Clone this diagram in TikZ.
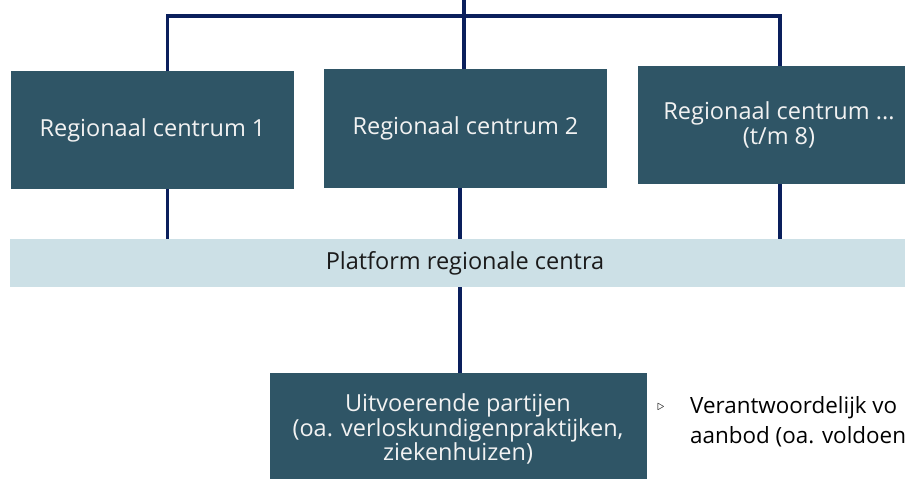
\documentclass[tikz,border=0pt]{standalone}
\usepackage{fontspec}
\setmainfont{Open Sans}
\definecolor{boxteal}{HTML}{2F5566}
\definecolor{bandblue}{HTML}{CCE0E6}
\definecolor{linenavy}{HTML}{0A1F5C}
\definecolor{boxtext}{HTML}{F2F2F2}
\definecolor{darktext}{HTML}{1A1A1A}
\tikzset{
  regbox/.style={fill=boxteal, text=boxtext, inner sep=0pt, align=center, font=\fontsize{23.5}{25}\selectfont},
  band/.style={fill=bandblue, text=darktext, inner sep=0pt, font=\fontsize{23.5}{25}\selectfont},
  conn/.style={draw=linenavy, line width=3.4pt},
  bodytext/.style={text=black, inner sep=0pt, anchor=west, align=left, font=\fontsize{22.4}{30}\selectfont}
}
\begin{document}
\begin{tikzpicture}[x=1pt,y=-1pt]
\useasboundingbox (0,0) rectangle (905,479);
\clip (0,0) rectangle (905,479);
\fill[white] (0,0) rectangle (905,479);
% boxes
\node[regbox, minimum width=283pt, minimum height=118pt] (b1) at (152.5,130) {Regionaal centrum 1};
\node[regbox, minimum width=283pt, minimum height=119pt] (b2) at (465.5,128.5) {Regionaal centrum 2};
\node[regbox, minimum width=282pt, minimum height=118pt] (b3) at (779,125) {Regionaal centrum ...\\(t/m 8)};
\node[band, minimum width=900pt, minimum height=48pt] (pf) at (460,263) {};
\node[text=darktext, inner sep=0pt, font=\fontsize{23.5}{25}\selectfont] (pft) at (465,263) {Platform regionale centra};
\node[regbox, minimum width=377pt, minimum height=120pt] (ub) at (458.5,433) {};
\node[regbox, fill=none, font=\fontsize{23.5}{24.5}\selectfont] (ubt) at (458,429) {Uitvoerende partijen\\(oa. verloskundigenpraktijken,\\ziekenhuizen)};
\node[inner sep=0pt, font=\fontsize{14}{14}\selectfont] (bul) at (661,407) {$\triangleright$};
\node[bodytext] (rt) at (690,422) {Verantwoordelijk vo\\aanbod (oa. voldoen};
% connectors
\coordinate (top) at (464,0);
\coordinate (hl) at (166,16);
\coordinate (hr) at (782,16);
\coordinate (j1) at (167.5,16);
\coordinate (j3) at (780,16);
\draw[conn] (top) -- (top |- b2.north);
\draw[conn] (hl) -- (hr);
\draw[conn] (j1) -- (j1 |- b1.north);
\draw[conn] (j3) -- (j3 |- b3.north);
\coordinate (d1) at (167.5,0);
\coordinate (d2) at (460,0);
\coordinate (d3) at (780,0);
\draw[conn] (d1 |- b1.south) -- (d1 |- pf.north);
\draw[conn] (d2 |- b2.south) -- (d2 |- pf.north);
\draw[conn] (d3 |- b3.south) -- (d3 |- pf.north);
\draw[conn] (d2 |- pf.south) -- (d2 |- ub.north);
\end{tikzpicture}
\end{document}
